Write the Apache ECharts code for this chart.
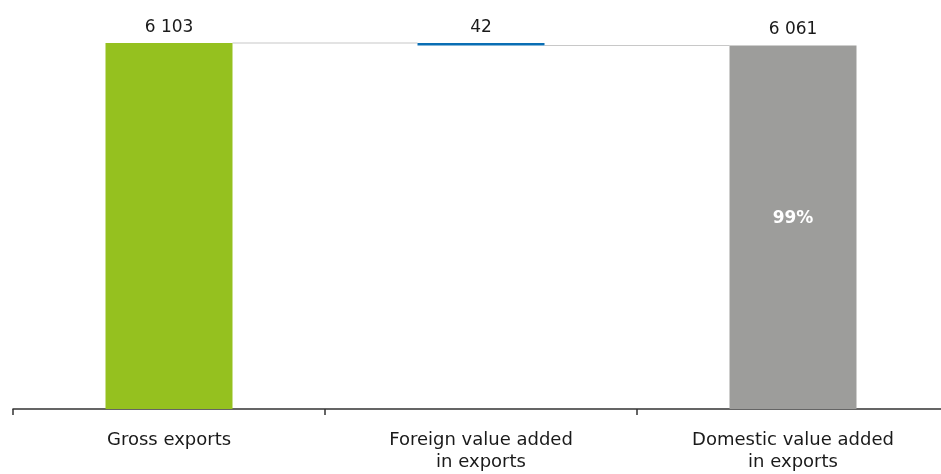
<!DOCTYPE html>
<html>
<head>
<meta charset="utf-8">
<script src="https://cdn.jsdelivr.net/npm/echarts@6/dist/echarts.min.js"></script>
<style>
  html, body { margin: 0; padding: 0; background: #fff; overflow: hidden; }
  #chart { width: 952px; height: 474px; }
</style>
</head>
<body>
<div id="chart"></div>
<script>
// Exports decomposition: gross exports split into foreign and domestic value added
const categories = ['Gross exports', 'Foreign value added\nin exports', 'Domestic value added\nin exports'];
const values = [6103, 42, 6061];
const bases = [0, 6061, 0];
const colors = ['#95c11f', '#0a6eb4', '#9d9d9b'];
const shareLabel = '99%';

const FONT = '"DejaVu Sans", sans-serif';
const fmt = v => String(v).replace(/\B(?=(\d{3})+(?!\d))/g, ' ');
const BAR_W = 127;

const chart = echarts.init(document.getElementById('chart'));

// Light connector lines between the tops of consecutive bars
const connectorData = [
  [0, values[0], 1],
  [1, bases[1], 2]
];

chart.setOption({
  animation: false,
  grid: { left: 13, width: 936, top: 43, bottom: 65 },
  xAxis: {
    type: 'category',
    data: categories,
    axisLine: { lineStyle: { color: '#333', width: 1.5 } },
    axisTick: { show: true, length: 6, lineStyle: { color: '#333', width: 1.5 } },
    axisLabel: { color: '#1a1a1a', fontSize: 18, fontFamily: FONT, lineHeight: 22, margin: 20 }
  },
  yAxis: {
    type: 'value', min: 0, max: 6103,
    show: false, splitLine: { show: false }
  },
  series: [
    {
      type: 'bar', stack: 'w', barWidth: BAR_W,
      data: bases,
      itemStyle: { color: 'transparent' },
      silent: true
    },
    {
      type: 'bar', stack: 'w', barWidth: BAR_W,
      data: values.map((v, i) => ({ value: v, itemStyle: { color: colors[i] } })),
      label: {
        show: true, position: 'top', distance: 7,
        color: '#1a1a1a', fontSize: 17, fontFamily: FONT,
        formatter: p => fmt(p.value)
      }
    },
    {
      type: 'custom',
      data: connectorData,
      z: 1,
      renderItem: (params, api) => {
        const a = api.coord([api.value(0), api.value(1)]);
        const b = api.coord([api.value(2), api.value(1)]);
        const half = BAR_W / 2;
        return {
          type: 'line',
          shape: { x1: a[0] + half, y1: a[1], x2: b[0] - half, y2: b[1] },
          style: { stroke: '#c8c8c8', lineWidth: 1.2 }
        };
      }
    },
    {
      type: 'custom',
      data: [[2, values[2] / 2]],
      z: 5,
      renderItem: (params, api) => {
        const p = api.coord([api.value(0), api.value(1)]);
        return {
          type: 'text',
          x: p[0], y: p[1] - 9,
          style: {
            text: shareLabel, fill: '#fff', fontSize: 17, fontWeight: 'bold',
            fontFamily: FONT, align: 'center', verticalAlign: 'middle'
          }
        };
      }
    }
  ]
});
</script>
</body>
</html>
